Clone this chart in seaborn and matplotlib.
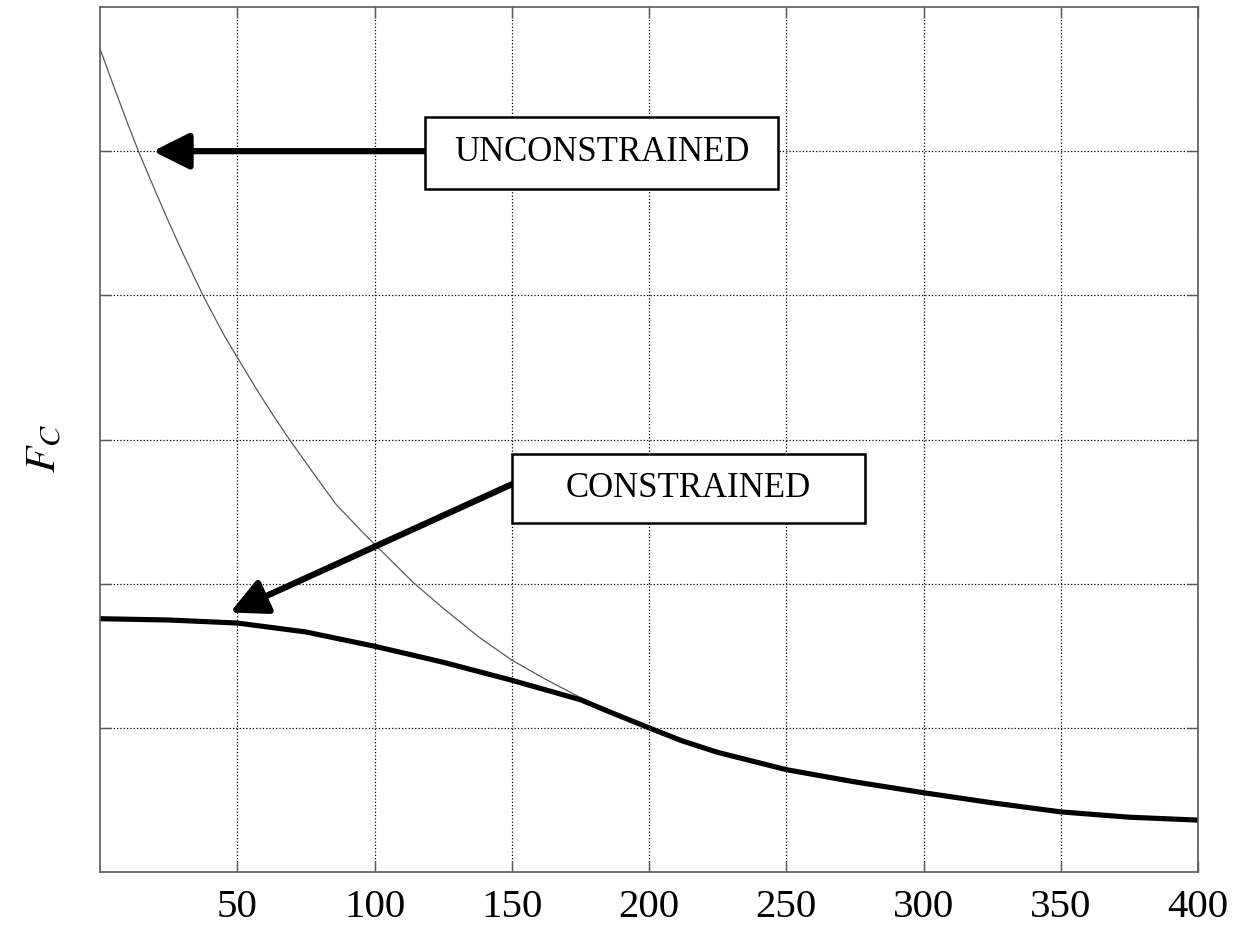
import matplotlib
matplotlib.use("Agg")
import matplotlib.pyplot as plt
from matplotlib.patches import Rectangle
import seaborn as sns
import pandas as pd

# curves (x = 0..400, y in grid units 0..6)
unc_x = [0, 5, 10, 14, 20, 25, 30, 37.5, 45, 50, 57, 63, 69, 78, 86, 96,
         105, 114, 125, 138, 150, 162, 174, 187, 200]
unc_y = [5.71, 5.45, 5.195, 5.0, 4.73, 4.51, 4.30, 4.0, 3.73, 3.57, 3.35,
         3.17, 3.0, 2.76, 2.55, 2.35, 2.18, 2.01, 1.83, 1.63, 1.47, 1.34,
         1.22, 1.10, 1.0]

con_x = [0, 25, 50, 75, 100, 125, 150, 175, 187, 200, 212, 225, 250, 275,
         300, 325, 350, 375, 400]
con_y = [1.757, 1.748, 1.727, 1.665, 1.566, 1.455, 1.33, 1.195, 1.10, 1.0,
         0.91, 0.83, 0.71, 0.625, 0.55, 0.48, 0.417, 0.38, 0.36]

x_ticks = [50, 100, 150, 200, 250, 300, 350, 400]
y_ticks = [1, 2, 3, 4, 5]

unc = pd.DataFrame({"x": unc_x, "y": unc_y})
con = pd.DataFrame({"x": con_x, "y": con_y})

sns.set_style("white")
plt.rcParams["font.family"] = ["Liberation Serif", "DejaVu Serif"]
plt.rcParams["mathtext.fontset"] = "stix"
plt.rcParams["text.color"] = "black"
plt.rcParams["xtick.color"] = "black"
plt.rcParams["ytick.color"] = "black"
plt.rcParams["axes.labelcolor"] = "black"

fig = plt.figure(figsize=(12.38, 9.25), dpi=100)
ax = fig.add_axes([100 / 1238, 53 / 925, 1098 / 1238, 865 / 925])

sns.lineplot(data=unc, x="x", y="y", ax=ax, color="0.35", lw=0.9)
sns.lineplot(data=con, x="x", y="y", ax=ax, color="black", lw=3.7)

ax.set_xlim(0, 400)
ax.set_ylim(0, 6)
ax.set_xticks(x_ticks)
ax.set_yticks(y_ticks)
ax.set_yticklabels([])
ax.tick_params(axis="x", labelsize=29.5, pad=12, labelcolor="black")
ax.tick_params(direction="in", length=8, width=1, color="0.35",
               top=True, right=True, left=True, bottom=True)
ax.grid(True, linestyle=":", color="black", lw=0.9)
for sp in ax.spines.values():
    sp.set_color("0.35")
    sp.set_linewidth(1.2)

ax.set_xlabel("")
ax.set_ylabel(r"$F_C$", fontsize=31, color="black")
ax.yaxis.set_label_coords(-0.032, 0.49)

# annotation boxes with arrows
arrow = dict(arrowstyle="-|>,head_length=1.1,head_width=0.55",
             mutation_scale=20, lw=4.5, color="black", shrinkA=0, shrinkB=0)

ax.add_patch(Rectangle((118.4, 4.74), 128.6, 0.50, fill=True, fc="white",
                       ec="black", lw=1.8, zorder=5))
ax.text(182.7, 4.99, "UNCONSTRAINED", ha="center", va="center",
        fontsize=25, color="black", zorder=6)
ax.annotate("", xy=(19.3, 5.0), xytext=(118.4, 5.0), arrowprops=arrow,
            zorder=4)

ax.add_patch(Rectangle((150.1, 2.42), 128.6, 0.48, fill=True, fc="white",
                       ec="black", lw=1.8, zorder=5))
ax.text(214.4, 2.66, "CONSTRAINED", ha="center", va="center",
        fontsize=25, color="black", zorder=6)
ax.annotate("", xy=(47.4, 1.80), xytext=(150.1, 2.69), arrowprops=arrow,
            zorder=4)

fig.savefig("out.png", dpi=100)
